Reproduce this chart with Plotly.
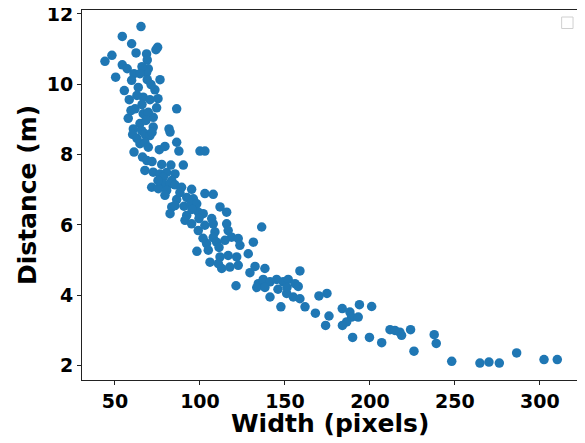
import plotly.graph_objects as go

# Width (pixels) vs Distance (m)
width_px = [
    65.3, 54.3, 59.8, 62.4, 75.1, 74.1, 44.1, 48.2, 68.6, 69.0,
    54.3, 57.2, 50.4, 61.2, 69.6, 68.6, 59.8, 69.0, 76.5, 55.5,
    63.7, 73.5, 58.4, 66.6, 70.6, 61.8, 74.5, 86.3, 57.8, 66.6,
    72.5, 64.7, 72.5, 81.8, 60.8, 69.6, 65.7, 60.4, 67.6, 70.6,
    82.4, 64.7, 67.6, 69.6, 76.1, 79.4, 86.3, 87.6, 100.0, 102.9,
    61.2, 66.2, 68.8, 71.8, 77.5, 82.9, 90.2, 67.6, 72.5, 76.5,
    80.4, 85.3, 78.4, 83.4, 78.4, 82.4, 85.3, 71.6, 75.5, 80.4,
    89.2, 95.1, 79.4, 86.3, 92.2, 96.1, 102.9, 107.8, 83.4, 85.3,
    90.6, 94.7, 98.1, 82.4, 92.2, 99.0, 91.2, 95.1, 99.0, 101.9,
    106.9, 107.8, 108.8, 111.8, 115.7, 115.7, 116.6, 107.8, 103.9, 109.8,
    104.9, 98.2, 118.6, 122.5, 123.5, 131.4, 136.3, 128.4, 111.8, 116.6,
    121.6, 105.9, 110.8, 112.8, 117.6, 122.5, 129.4, 132.4, 138.2, 158.8,
    121.2, 134.3, 137.2, 141.2, 145.1, 149.0, 151.9, 155.9, 157.8, 133.4,
    141.2, 151.0, 154.9, 158.8, 147.6, 161.8, 167.9, 170.0, 174.7, 175.9,
    173.9, 183.7, 188.2, 189.2, 193.1, 186.3, 183.8, 193.8, 201.0, 189.8,
    199.7, 206.9, 211.8, 214.7, 217.6, 218.6, 223.9, 225.9, 237.8, 239.0,
    248.1, 264.7, 270.0, 276.1, 286.3, 302.4, 310.2,
    62.9, 65.9, 59.4, 68.2, 62.9, 71.8, 75.3, 71.2, 65.9, 64.7,
    99.4, 102.9, 111.2, 114.7, 101.8, 95.3, 88.2, 75.3, 151.2, 145.9,
    138.2,
]
distance_m = [
    11.64, 11.36, 11.15, 10.89, 11.05, 10.98, 10.65, 10.82, 10.86, 10.69,
    10.55, 10.44, 10.20, 10.30, 10.44, 10.33, 10.11, 10.13, 10.13, 9.82,
    9.91, 9.84, 9.56, 9.63, 9.56, 9.30, 9.33, 9.30, 9.03, 9.16,
    9.06, 8.88, 8.78, 8.73, 8.73, 9.20, 8.68, 8.57, 8.59, 8.54,
    8.64, 8.31, 8.35, 8.21, 8.14, 8.23, 8.35, 8.10, 8.10, 8.10,
    8.07, 7.93, 7.83, 7.80, 7.72, 7.70, 7.70, 7.55, 7.50, 7.45,
    7.49, 7.45, 7.35, 7.26, 7.17, 7.17, 7.14, 7.07, 7.03, 6.98,
    7.07, 7.01, 6.84, 6.72, 6.78, 6.74, 6.89, 6.87, 6.51, 6.55,
    6.53, 6.61, 6.60, 6.32, 6.27, 6.36, 6.13, 6.03, 5.84, 6.32,
    6.18, 6.03, 5.80, 6.51, 6.36, 6.03, 5.84, 5.64, 5.47, 5.51,
    5.28, 5.25, 5.65, 5.61, 5.42, 5.51, 5.94, 5.18, 5.09, 5.13,
    5.09, 4.94, 4.90, 4.76, 4.80, 4.85, 4.64, 4.82, 4.76, 4.69,
    4.27, 4.33, 4.45, 4.38, 4.45, 4.38, 4.45, 4.33, 4.25, 4.22,
    3.95, 4.05, 3.95, 3.90, 3.67, 3.67, 3.49, 3.98, 4.05, 3.41,
    3.14, 3.62, 3.52, 3.38, 3.38, 3.24, 3.14, 3.73, 3.68, 2.80,
    2.80, 2.65, 3.02, 3.00, 2.95, 2.86, 3.02, 2.41, 2.88, 2.63,
    2.12, 2.07, 2.10, 2.07, 2.36, 2.17, 2.17,
    9.68, 9.42, 9.25, 8.97, 8.46, 8.63, 9.59, 9.99, 10.50, 10.30,
    6.18, 5.99, 5.36, 5.56, 5.62, 6.44, 6.92, 7.26, 4.22, 4.17,
    4.22,
]

x_ticks = [50, 100, 150, 200, 250, 300]
y_ticks = [2, 4, 6, 8, 10, 12]
x_title = "Width (pixels)"
y_title = "Distance (m)"

fig = go.Figure()
fig.add_trace(go.Scatter(
    x=width_px, y=distance_m, mode="markers",
    marker=dict(color="#1f77b4", size=9.5, line=dict(width=0)),
    showlegend=False,
))

axis_common = dict(
    showgrid=False, zeroline=False, showline=True, mirror=True,
    linecolor="#222222", linewidth=1.1, automargin=False,
    ticks="outside", ticklen=4, tickwidth=1.1, tickcolor="#222222",
    ticklabeloverflow="allow",
    tickfont=dict(family="DejaVu Sans", size=19, color="black", weight="bold"),
)

fig.update_xaxes(range=[30.6, 321.8], tickvals=x_ticks, **axis_common)
fig.update_yaxes(range=[1.59, 12.11], tickvals=y_ticks, **axis_common)

title_font = dict(family="DejaVu Sans", size=25, color="black")
fig.add_annotation(
    text="<b>%s</b>" % x_title, xref="paper", yref="paper",
    x=0.5, y=-0.118, xanchor="center", yanchor="middle",
    showarrow=False, font=title_font,
)
fig.add_annotation(
    text="<b>%s</b>" % y_title, xref="paper", yref="paper",
    x=-0.111, y=0.5, xanchor="center", yanchor="middle", textangle=-90,
    showarrow=False, font=title_font,
)

# empty legend frame in the upper right corner
fig.add_shape(
    type="rect", xref="paper", yref="paper",
    x0=0.969, x1=0.992, y0=0.950, y1=0.981,
    line=dict(color="#d0d0d0", width=1), fillcolor="rgba(255,255,255,0.8)",
)

# the page body adds an 8px offset, so the figure is sized/placed to compensate
fig.update_layout(
    width=577, height=435,
    margin=dict(l=74, r=8, t=1.5, b=63),
    plot_bgcolor="white", paper_bgcolor="white",
    font=dict(family="DejaVu Sans"),
)

fig.write_html("out.html")
